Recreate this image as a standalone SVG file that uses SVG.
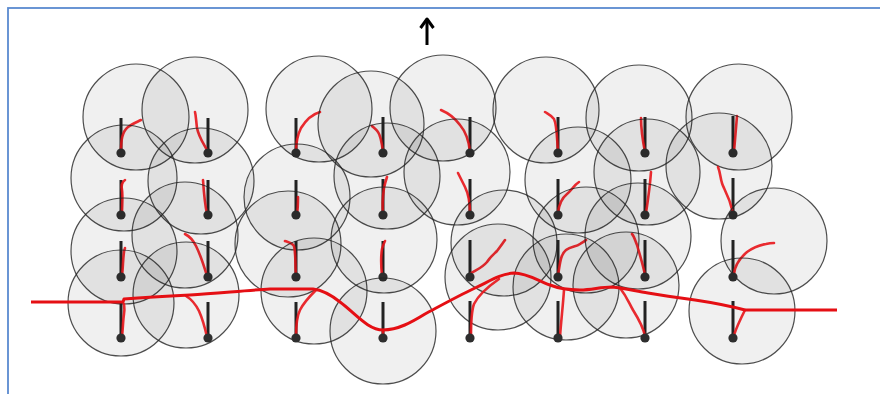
<svg xmlns="http://www.w3.org/2000/svg" width="880" height="394" viewBox="0 0 880 394">
<defs>
<style>
.rng{fill:#000;fill-opacity:0.06;stroke:#222;stroke-opacity:0.8;stroke-width:1.2}
.stem{stroke:#222;stroke-width:3;stroke-linecap:butt}
.dot{fill:#2e2e2e}
.trk{fill:none;stroke:#e8141a;stroke-opacity:0.9;stroke-width:2.6;stroke-linecap:round;stroke-linejoin:round}
.main{fill:none;stroke:#e50f14;stroke-width:3;stroke-linecap:butt;stroke-linejoin:round}
</style>
<marker id="ah" viewBox="0 0 12 16" refX="10" refY="8" markerWidth="12" markerHeight="16" markerUnits="userSpaceOnUse" orient="auto">
<path d="M1,1.5 L10,8 L1,14.5" fill="none" stroke="#000" stroke-width="3" stroke-linejoin="round"/>
</marker>
</defs>
<rect width="880" height="394" fill="#fff"/>
<rect x="8" y="8" width="900" height="420" fill="none" stroke="#5a8ad0" stroke-width="1.8"/>

<g id="n-r1c1"><circle class="rng" cx="136" cy="117" r="53"/><line class="stem" x1="121" y1="118" x2="121" y2="153"/><path class="trk" d="M121,152 C121,140 122,132 128,127 C132,124 137,122 141,120"/><circle class="dot" cx="121" cy="153" r="4.6"/></g>
<g id="n-r1c2"><circle class="rng" cx="195" cy="110" r="53"/><line class="stem" x1="208" y1="118" x2="208" y2="153"/><path class="trk" d="M208,152 C204,144 199,138 197,128 C196,120 196,116 195,112"/><circle class="dot" cx="208" cy="153" r="4.6"/></g>
<g id="n-r1c3"><circle class="rng" cx="319" cy="109" r="53"/><line class="stem" x1="296" y1="118" x2="296" y2="153"/><path class="trk" d="M296,152 C296,143 297,136 301,128 C306,120 313,114 320,112"/><circle class="dot" cx="296" cy="153" r="4.6"/></g>
<g id="n-r1c4"><circle class="rng" cx="371" cy="124" r="53"/><line class="stem" x1="383" y1="117" x2="383" y2="153"/><path class="trk" d="M383,152 C382,144 381,136 378,132 C376,129 374,128 372,126"/><circle class="dot" cx="383" cy="153" r="4.6"/></g>
<g id="n-r1c5"><circle class="rng" cx="443" cy="108" r="53"/><line class="stem" x1="470" y1="117" x2="470" y2="153"/><path class="trk" d="M470,152 C469,142 466,132 460,125 C455,118 448,113 441,110"/><circle class="dot" cx="470" cy="153" r="4.6"/></g>
<g id="n-r1c6"><circle class="rng" cx="546" cy="110" r="53"/><line class="stem" x1="558" y1="117" x2="558" y2="153"/><path class="trk" d="M558,152 C557,140 557,125 554,119 C551,115 548,114 545,112"/><circle class="dot" cx="558" cy="153" r="4.6"/></g>
<g id="n-r1c7"><circle class="rng" cx="639" cy="118" r="53"/><line class="stem" x1="645" y1="117" x2="645" y2="153"/><path class="trk" d="M645,152 C643,142 641,130 641,118"/><circle class="dot" cx="645" cy="153" r="4.6"/></g>
<g id="n-r1c8"><circle class="rng" cx="739" cy="117" r="53"/><line class="stem" x1="733" y1="116" x2="733" y2="153"/><path class="trk" d="M734,152 C735,140 736,128 737,116"/><circle class="dot" cx="733" cy="153" r="4.6"/></g>

<g id="n-r2c1"><circle class="rng" cx="124" cy="178" r="53"/><line class="stem" x1="121" y1="180" x2="121" y2="215"/><path class="trk" d="M122,214 C122,205 123,197 122,190 C121,185 122,182 125,180"/><circle class="dot" cx="121" cy="215" r="4.6"/></g>
<g id="n-r2c2"><circle class="rng" cx="201" cy="181" r="53"/><line class="stem" x1="208" y1="180" x2="208" y2="215"/><path class="trk" d="M207,214 C205,205 204,195 203,180"/><circle class="dot" cx="208" cy="215" r="4.6"/></g>
<g id="n-r2c3"><circle class="rng" cx="297" cy="197" r="53"/><line class="stem" x1="296" y1="180" x2="296" y2="215"/><path class="trk" d="M297,214 C298,208 298,202 298,197"/><circle class="dot" cx="296" cy="215" r="4.6"/></g>
<g id="n-r2c4"><circle class="rng" cx="387" cy="176" r="53"/><line class="stem" x1="383" y1="179" x2="383" y2="215"/><path class="trk" d="M383,214 C382,205 383,195 384,188 C385,183 386,180 387,177"/><circle class="dot" cx="383" cy="215" r="4.6"/></g>
<g id="n-r2c5"><circle class="rng" cx="457" cy="172" r="53"/><line class="stem" x1="470" y1="179" x2="470" y2="215"/><path class="trk" d="M470,214 C470,204 469,195 465,187 C462,181 460,177 458,173"/><circle class="dot" cx="470" cy="215" r="4.6"/></g>
<g id="n-r2c6"><circle class="rng" cx="578" cy="180" r="53"/><line class="stem" x1="558" y1="179" x2="558" y2="215"/><path class="trk" d="M558,213 C559,204 562,198 567,194 C572,190 574,185 579,182"/><circle class="dot" cx="558" cy="215" r="4.6"/></g>
<g id="n-r2c7"><circle class="rng" cx="647" cy="172" r="53"/><line class="stem" x1="645" y1="179" x2="645" y2="215"/><path class="trk" d="M646,213 C648,200 650,186 651,172"/><circle class="dot" cx="645" cy="215" r="4.6"/></g>
<g id="n-r2c8"><circle class="rng" cx="719" cy="166" r="53"/><line class="stem" x1="733" y1="178" x2="733" y2="215"/><path class="trk" d="M733,213 C731,204 728,196 724,188 C720,181 721,174 718,167"/><circle class="dot" cx="733" cy="215" r="4.6"/></g>

<g id="n-r3c1"><circle class="rng" cx="124" cy="251" r="53"/><line class="stem" x1="121" y1="241" x2="121" y2="277"/><path class="trk" d="M122,276 C123,268 123,258 124,252 C124,250 125,249 125,248"/><circle class="dot" cx="121" cy="277" r="4.6"/></g>
<g id="n-r3c2"><circle class="rng" cx="185" cy="235" r="53"/><line class="stem" x1="208" y1="241" x2="208" y2="277"/><path class="trk" d="M207,276 C204,266 201,256 196,246 C193,240 189,236 185,234"/><circle class="dot" cx="208" cy="277" r="4.6"/></g>
<g id="n-r3c3"><circle class="rng" cx="288" cy="244" r="53"/><line class="stem" x1="296" y1="241" x2="296" y2="277"/><path class="trk" d="M296,276 C295,266 296,254 294,246 C292,243 288,242 285,241"/><circle class="dot" cx="296" cy="277" r="4.6"/></g>
<g id="n-r3c4"><circle class="rng" cx="384" cy="240" r="53"/><line class="stem" x1="383" y1="241" x2="383" y2="277"/><path class="trk" d="M382,276 C381,266 381,255 382,249 C383,245 384,243 385,241"/><circle class="dot" cx="383" cy="277" r="4.6"/></g>
<g id="n-r3c5"><circle class="rng" cx="504" cy="243" r="53"/><line class="stem" x1="470" y1="240" x2="470" y2="277"/><path class="trk" d="M470,274 C476,270 482,268 487,262 C491,256 494,254 497,251 C500,247 503,243 505,240"/><circle class="dot" cx="470" cy="277" r="4.6"/></g>
<g id="n-r3c6"><circle class="rng" cx="586" cy="240" r="53"/><line class="stem" x1="558" y1="240" x2="558" y2="277"/><path class="trk" d="M558,275 C560,265 560,255 566,250 C571,246 576,247 580,244 C583,242 585,241 586,240"/><circle class="dot" cx="558" cy="277" r="4.6"/></g>
<g id="n-r3c7"><circle class="rng" cx="638" cy="236" r="53"/><line class="stem" x1="645" y1="240" x2="645" y2="277"/><path class="trk" d="M645,275 C643,265 640,255 637,245 C635,240 634,236 632,234"/><circle class="dot" cx="645" cy="277" r="4.6"/></g>
<g id="n-r3c8"><circle class="rng" cx="774" cy="241" r="53"/><line class="stem" x1="733" y1="240" x2="733" y2="277"/><path class="trk" d="M734,274 C735,264 740,258 747,252 C754,247 760,245 766,244 C770,243 772,243 774,243"/><circle class="dot" cx="733" cy="277" r="4.6"/></g>

<g id="n-r4c1"><circle class="rng" cx="121" cy="303" r="53"/><line class="stem" x1="121" y1="302" x2="121" y2="338"/><path class="trk" d="M122,337 C123,328 123,320 124,314 C125,309 124,306 124,304"/><circle class="dot" cx="121" cy="338" r="4.6"/></g>
<g id="n-r4c2"><circle class="rng" cx="186" cy="295" r="53"/><line class="stem" x1="208" y1="302" x2="208" y2="338"/><path class="trk" d="M207,337 C205,328 203,320 199,311 C195,303 191,299 186,296"/><circle class="dot" cx="208" cy="338" r="4.6"/></g>
<g id="n-r4c3"><circle class="rng" cx="314" cy="291" r="53"/><line class="stem" x1="296" y1="302" x2="296" y2="338"/><path class="trk" d="M296,337 C296,328 296,318 300,310 C304,302 311,295 316,290"/><circle class="dot" cx="296" cy="338" r="4.6"/></g>
<g id="n-r4c4"><circle class="rng" cx="383" cy="331" r="53"/><line class="stem" x1="383" y1="302" x2="383" y2="338"/><path class="trk" d="M383,337 L383,330"/><circle class="dot" cx="383" cy="338" r="4.6"/></g>
<g id="n-r4c5"><circle class="rng" cx="498" cy="277" r="53"/><line class="stem" x1="470" y1="301" x2="470" y2="338"/><path class="trk" d="M471,337 C471,325 471,312 474,304 C478,296 486,288 499,279"/><circle class="dot" cx="470" cy="338" r="4.6" fill="#111"/></g>
<g id="n-r4c6"><circle class="rng" cx="566" cy="287" r="53"/><line class="stem" x1="558" y1="301" x2="558" y2="338"/><path class="trk" d="M560,337 C561,322 563,305 564,290"/><circle class="dot" cx="558" cy="338" r="4.6"/></g>
<g id="n-r4c7"><circle class="rng" cx="626" cy="285" r="53"/><line class="stem" x1="645" y1="301" x2="645" y2="338"/><path class="trk" d="M645,336 C643,326 638,318 633,310 C629,303 627,297 620,288"/><circle class="dot" cx="645" cy="338" r="4.6"/></g>
<g id="n-r4c8"><circle class="rng" cx="742" cy="311" r="53"/><line class="stem" x1="733" y1="301" x2="733" y2="338"/><path class="trk" d="M734,335 C737,326 741,318 745,310"/><circle class="dot" cx="733" cy="338" r="4.6"/></g>

<g id="connectors">
<path class="main" d="M31,302 L123,302 L124,299 C150,297 170,296 190,295 C220,293 250,290 270,289 L313,289 C322,290 330,294 340,302 C355,313 368,330 383,330 C398,330 412,322 425,314 C440,306 458,296 475,288 C490,281 500,274 514,273 C526,273 537,280 550,285 C560,289 570,290 580,290 C592,290 600,287 612,287 C625,288 635,291 648,293 C665,296 680,298 695,300 C715,303 730,306 745,310 L837,310"/>
<line x1="427" y1="45" x2="427" y2="19" stroke="#000" stroke-width="3" marker-end="url(#ah)"/>
</g>
</svg>
